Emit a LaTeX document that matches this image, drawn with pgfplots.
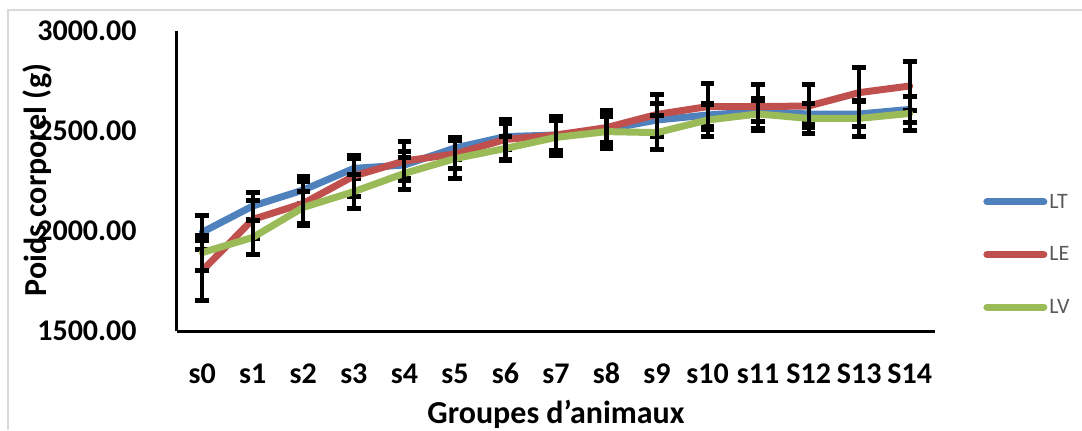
\documentclass[border=0pt]{standalone}
\usepackage{pgfplots}
\pgfplotsset{compat=1.18}
\usepackage{pgfplotstable}
\usepackage{fontspec}
\setmainfont{Carlito}
\definecolor{cLT}{HTML}{4F81BD}
\definecolor{cLE}{HTML}{C0504D}
\definecolor{cLV}{HTML}{9BBB59}
\definecolor{leggray}{HTML}{595959}
\definecolor{bordergray}{HTML}{D9D9D9}
\pgfplotstableread{
x y e
0 1994 86
1 2125 67
2 2205 67
3 2313 50
4 2330 67
5 2415 55
6 2472 66
7 2480 75
8 2508 64
9 2555 83
10 2580 58
11 2597 50
12 2585 47
13 2585 62
14 2608 64
}\dataLT
\pgfplotstableread{
x y e
0 1802 150
1 2058 97
2 2138 109
3 2275 103
4 2350 97
5 2385 70
6 2458 100
7 2480 95
8 2517 88
9 2583 102
10 2622 116
11 2622 111
12 2625 108
13 2692 126
14 2725 122
}\dataLE
\pgfplotstableread{
x y e
0 1892 88
1 1968 83
2 2118 80
3 2197 84
4 2288 80
5 2362 99
6 2413 58
7 2468 88
8 2497 84
9 2492 84
10 2555 80
11 2585 80
12 2563 75
13 2563 88
14 2588 83
}\dataLV
\begin{document}
\begin{tikzpicture}
\useasboundingbox (-88.5pt,-49.5pt) rectangle (452.5pt,165.5pt);
\draw[bordergray, line width=0.6pt] (-84.5pt,-49.5pt) -- (-84.5pt,160.5pt) -- (452.5pt,160.5pt);
\begin{axis}[
  scale only axis,
  width=379pt, height=150pt,
  xmin=-0.5, xmax=14.5,
  ymin=1500, ymax=3000,
  axis lines=left,
  axis line style={-, line width=1.5pt, black},
  xtick={0,...,14},
  xticklabels={s0,s1,s2,s3,s4,s5,s6,s7,s8,s9,s10,s11,S12,S13,S14},
  ytick={1500,2000,2500,3000},
  major tick length=0pt,
  tick style={draw=none},
  /pgf/number format/assume math mode=true,
  yticklabel style={font=\fontsize{15}{18}\selectfont\bfseries, anchor=east, inner sep=0pt, xshift=-20pt,
    /pgf/number format/.cd, fixed, fixed zerofill, precision=2, 1000 sep={}},
  xticklabel style={font=\fontsize{15}{18}\selectfont\bfseries, anchor=base, inner sep=0pt, yshift=-26pt},
  xlabel={Groupes d’animaux},
  xlabel style={font=\fontsize{16}{19}\selectfont\bfseries, at={(axis description cs:0.5,0)}, anchor=base, inner sep=0pt, yshift=-46pt},
  legend style={at={(rel axis cs:1.0633,0.466)}, anchor=north west, draw=none, fill=none, inner sep=0pt,
    font=\fontsize{11}{13}\selectfont\color{leggray},
    nodes={inner sep=1pt, text height=7.3pt, text depth=1pt},
    row sep=16pt},
  legend cell align=left,
  legend image code/.code={\draw[#1, line cap=round] (0pt,0pt) -- (28.5pt,0pt);},
  every axis plot/.append style={line width=3.5pt, line join=round, line cap=round},
  error bars/error bar style={line width=2.1pt, black, line cap=butt},
  error bars/error mark options={line width=2.5pt, black, mark size=3.4pt, rotate=90},
  clip=false,
]
\addplot[cLT, mark=none, error bars/.cd, y dir=both, y explicit] table[x=x, y=y, y error=e] {\dataLT};
\addlegendentry{LT}
\addplot[cLE, mark=none, error bars/.cd, y dir=both, y explicit] table[x=x, y=y, y error=e] {\dataLE};
\addlegendentry{LE}
\addplot[cLV, mark=none, error bars/.cd, y dir=both, y explicit] table[x=x, y=y, y error=e] {\dataLV};
\addlegendentry{LV}
\end{axis}
\node[rotate=90, font=\fontsize{16}{19}\selectfont\bfseries] at (-70pt,75.5pt) {Poids corporel (g)};
\end{tikzpicture}
\end{document}
